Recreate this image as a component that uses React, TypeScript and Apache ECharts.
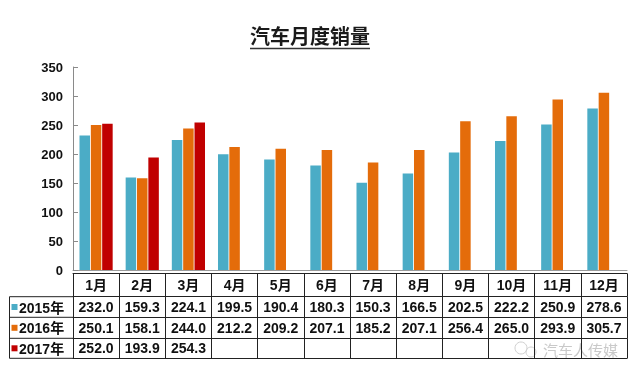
import React, { useEffect, useRef } from "react";
import * as echarts from "echarts";

const months = ["1月", "2月", "3月", "4月", "5月", "6月", "7月", "8月", "9月", "10月", "11月", "12月"];
const yearNames = ["2015年", "2016年", "2017年"];
const sales2015 = [232.0, 159.3, 224.1, 199.5, 190.4, 180.3, 150.3, 166.5, 202.5, 222.2, 250.9, 278.6];
const sales2016 = [250.1, 158.1, 244.0, 212.2, 209.2, 207.1, 185.2, 207.1, 256.4, 265.0, 293.9, 305.7];
const sales2017: (number | null)[] = [252.0, 193.9, 254.3, null, null, null, null, null, null, null, null, null];
const yTicks = { min: 0, max: 350, interval: 50 };
const titleText = "汽车月度销量";
const watermarkText = "汽车人传媒";

const colors = ["#4BACC6", "#E46C0A", "#C00000"];
const FONT = "'Liberation Sans', Arial, 'Noto Sans CJK SC', sans-serif";

// layout constants
const W = 640;
const H = 379;
const gridLeft = 73;
const gridRight = 13;
const gridTop = 67;
const gridBottomY = 270;
// offsets (below plot bottom) of table horizontal lines
const lineOffsets = [3.5, 26.7, 47.3, 68.3, 88.3];

export default function App() {
  const ref = useRef<HTMLDivElement>(null);
  useEffect(() => {
    if (!ref.current) return;
    const chart = echarts.init(ref.current, null, { renderer: "svg" });
    const rows = [sales2015, sales2016, sales2017];

    const baseCat = { type: "category", data: months, gridIndex: 0, position: "bottom", boundaryGap: true };

    const xAxes: any[] = [
      {
        ...baseCat,
        axisLine: { lineStyle: { color: "#9a9a9a", width: 1 } },
        axisTick: { show: false },
        axisLabel: { show: false },
      },
      {
        ...baseCat,
        offset: lineOffsets[0],
        axisLine: { lineStyle: { color: "#222", width: 1 } },
        axisTick: { show: true, inside: false, alignWithLabel: false, length: lineOffsets[1] - lineOffsets[0], lineStyle: { color: "#222", width: 1 } },
        axisLabel: {
          interval: 0,
          margin: (lineOffsets[1] - lineOffsets[0]) / 2,
          verticalAlign: "middle",
          fontSize: 14,
          fontWeight: "bold",
          color: "#111",
          fontFamily: FONT,
        },
      },
    ];
    rows.forEach((vals, i) => {
      const h = lineOffsets[i + 2] - lineOffsets[i + 1];
      xAxes.push({
        ...baseCat,
        offset: lineOffsets[i + 1],
        axisLine: { lineStyle: { color: "#222", width: 1 } },
        axisTick: { show: true, inside: false, alignWithLabel: false, length: h, lineStyle: { color: "#222", width: 1 } },
        axisLabel: {
          interval: 0,
          margin: h / 2,
          verticalAlign: "middle",
          fontSize: 14,
          fontWeight: "bold",
          color: "#111",
          fontFamily: FONT,
          formatter: (_v: string, idx: number) => (vals[idx] == null ? "" : (vals[idx] as number).toFixed(1)),
        },
      });
    });
    xAxes.push({
      ...baseCat,
      offset: lineOffsets[4],
      axisLine: { lineStyle: { color: "#222", width: 1 } },
      axisTick: { show: false },
      axisLabel: { show: false },
    });

    const graphics: any[] = [];
    // title
    graphics.push({
      type: "text",
      x: 310,
      y: 37,
      style: { text: titleText, fontSize: 20, fontWeight: "bold", fontFamily: FONT, fill: "#1a1a1a", align: "center", verticalAlign: "middle" },
    });
    graphics.push({ type: "line", shape: { x1: 250, y1: 48.5, x2: 370, y2: 48.5 }, style: { stroke: "#333", lineWidth: 1.5 } });

    // left column of table
    const leftX = 9.5;
    for (let k = 1; k < lineOffsets.length; k++) {
      const y = gridBottomY + lineOffsets[k];
      graphics.push({ type: "line", shape: { x1: leftX, y1: y, x2: gridLeft, y2: y }, style: { stroke: "#222", lineWidth: 1 } });
    }
    graphics.push({
      type: "line",
      shape: { x1: leftX, y1: gridBottomY + lineOffsets[1], x2: leftX, y2: gridBottomY + lineOffsets[4] },
      style: { stroke: "#222", lineWidth: 1 },
    });
    yearNames.forEach((name, i) => {
      const cy = gridBottomY + (lineOffsets[i + 1] + lineOffsets[i + 2]) / 2;
      graphics.push({ type: "rect", shape: { x: 11.5, y: cy - 3, width: 6, height: 6 }, style: { fill: colors[i] } });
      graphics.push({
        type: "text",
        x: 19,
        y: cy + 0.5,
        style: { text: name, fontSize: 14, fontWeight: "bold", fontFamily: FONT, fill: "#111", align: "left", verticalAlign: "middle" },
      });
    });

    // watermark
    graphics.push({ type: "circle", shape: { cx: 521, cy: 348, r: 6 }, style: { fill: "none", stroke: "#cfcfcf", lineWidth: 1 } });
    graphics.push({ type: "circle", shape: { cx: 531, cy: 352, r: 5 }, style: { fill: "none", stroke: "#cfcfcf", lineWidth: 1 } });
    graphics.push({
      type: "text",
      x: 543,
      y: 349,
      style: { text: watermarkText, fontSize: 15, fontFamily: "'Noto Sans CJK SC', sans-serif", fill: "#c9c9c9", align: "left", verticalAlign: "middle" },
    });

    const seriesData = [sales2015, sales2016, sales2017];
    chart.setOption({
      animation: false,
      grid: { left: gridLeft, right: gridRight, top: gridTop, bottom: H - gridBottomY, containLabel: false },
      xAxis: xAxes,
      yAxis: {
        type: "value",
        min: yTicks.min,
        max: yTicks.max,
        interval: yTicks.interval,
        axisLine: { show: true, lineStyle: { color: "#8a8a8a", width: 1 } },
        axisTick: { show: true, inside: true, length: 5, lineStyle: { color: "#8a8a8a" } },
        splitLine: { show: false },
        axisLabel: { margin: 10, fontSize: 13, fontWeight: "bold", color: "#111", fontFamily: FONT },
      },
      series: seriesData.map((d, i) => ({
        name: yearNames[i],
        type: "bar",
        xAxisIndex: 0,
        yAxisIndex: 0,
        data: d,
        barWidth: 10.5,
        barGap: "8%",
        itemStyle: { color: colors[i] },
      })),
      graphic: graphics,
    });
    return () => chart.dispose();
  }, []);
  return <div ref={ref} style={{ position: "fixed", left: 0, top: 0, width: W, height: H }} />;
}
